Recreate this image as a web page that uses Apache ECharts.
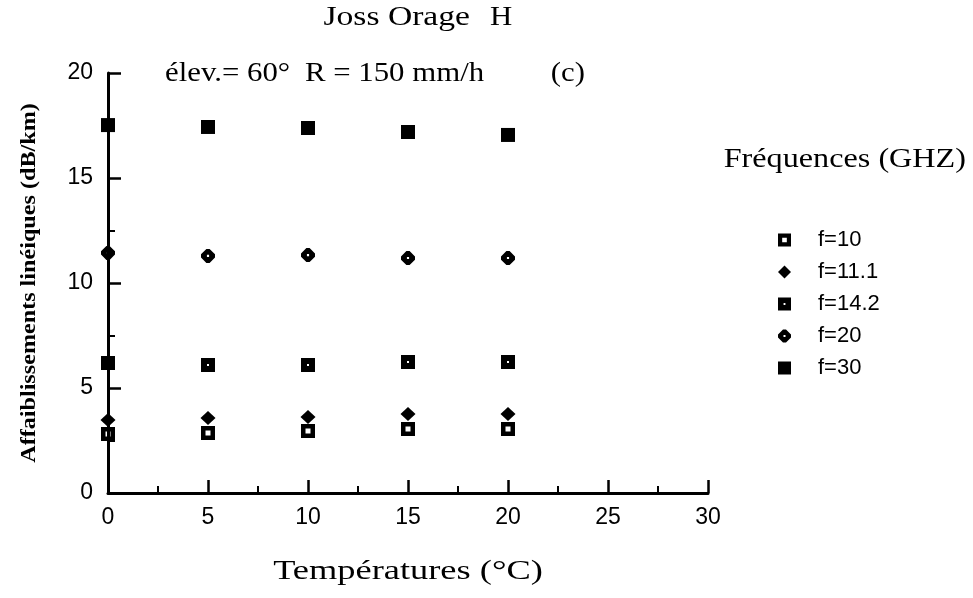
<!DOCTYPE html>
<html><head><meta charset="utf-8">
<script src="https://cdn.jsdelivr.net/npm/echarts@6/dist/echarts.min.js"></script>
<style>html,body{margin:0;padding:0;background:#fff}#c{width:973px;height:598px}</style>
</head><body><div id="c"></div>
<script>
const temperatures = [0, 5, 10, 15, 20];
const f10 = [2.81, 2.86, 2.95, 3.05, 3.05];
const f11_1 = [3.48, 3.57, 3.62, 3.76, 3.76];
const f14_2 = [6.19, 6.10, 6.10, 6.24, 6.24];
const f20 = [11.43, 11.29, 11.33, 11.19, 11.19];
const f30 = [17.52, 17.43, 17.38, 17.19, 17.05];
const seriesNames = ['f=10', 'f=11.1', 'f=14.2', 'f=20', 'f=30'];
const seriesValues = [f10, f11_1, f14_2, f20, f30];

const symbols = [
  'path://M0,0H14V14H0Z M4.5,4.5V9.5H9.5V4.5Z',
  'diamond',
  'path://M0,0H14V14H0Z M6,6V8H8V6Z',
  'path://M5,0H8L13,5V8L8,13H5L0,8V5Z M5.5,5.5V7.5H7.5V5.5Z',
  'rect'
];
const symbolSizes = [14, [15, 14], 14, 14, 14];

const serif = '"Liberation Serif", "Times New Roman", serif';
const sans = '"Liberation Sans", Arial, sans-serif';

const chart = echarts.init(document.getElementById('c'), null, {renderer: 'canvas'});
const axisCommon = {
  axisLine: {show: true, onZero: false, lineStyle: {color: '#000', width: 3}},
  axisTick: {show: true, inside: true, length: 13, lineStyle: {color: '#000', width: 2.5}},
  minorTick: {show: true, splitNumber: 2, length: 7, lineStyle: {color: '#000', width: 2}},
  splitLine: {show: false},
  axisLabel: {color: '#000', fontFamily: sans, fontSize: 23}
};
function txt(x, y, text, size, align, sx) {
  return {type: 'text', x: x, y: y, scaleX: sx,
    style: {text: text, font: size + 'px ' + serif, fill: '#000', align: align, verticalAlign: 'middle'}};
}
chart.setOption({
  animation: false,
  backgroundColor: '#fff',
  grid: {left: 108, right: 265, top: 73, bottom: 105, containLabel: false},
  xAxis: Object.assign({}, axisCommon, {
    type: 'value', min: 0, max: 30, interval: 5,
    axisLabel: Object.assign({}, axisCommon.axisLabel, {margin: 13})
  }),
  yAxis: Object.assign({}, axisCommon, {
    type: 'value', min: 0, max: 20, interval: 5,
    axisLabel: Object.assign({}, axisCommon.axisLabel, {margin: 15})
  }),
  legend: {
    orient: 'vertical', left: 773, top: 224, itemGap: 10,
    itemWidth: 13, itemHeight: 13,
    textStyle: {color: '#000', fontFamily: sans, fontSize: 22, padding: [0, 0, 0, 22]},
    data: seriesNames
  },
  series: seriesNames.map((name, i) => ({
    name: name,
    type: 'scatter',
    symbol: symbols[i],
    symbolSize: symbolSizes[i],
    itemStyle: {color: '#000', opacity: 1},
    data: temperatures.map((t, j) => [t, seriesValues[i][j]])
  })),
  graphic: [
    txt(470, 18, 'Joss Orage', 28, 'right', 1.2),
    txt(490, 18, 'H', 28, 'left', 1.1),
    txt(165, 74, 'élev.= 60°', 28, 'left', 1.1),
    txt(305, 74, 'R = 150 mm/h', 28, 'left', 1.1),
    txt(585, 74, '(c)', 28, 'right', 1.1),
    txt(966, 160, 'Fréquences (GHZ)', 28, 'right', 1.15),
    txt(408, 572, 'Températures (°C)', 28, 'center', 1.3),
    {type: 'text', x: 30, y: 283, rotation: Math.PI / 2, scaleX: 1.15,
      style: {text: 'Affaiblissements linéiques (dB/km)', font: 'bold 21px ' + serif, fill: '#000', align: 'center', verticalAlign: 'middle'}}
  ]
});
</script></body></html>
